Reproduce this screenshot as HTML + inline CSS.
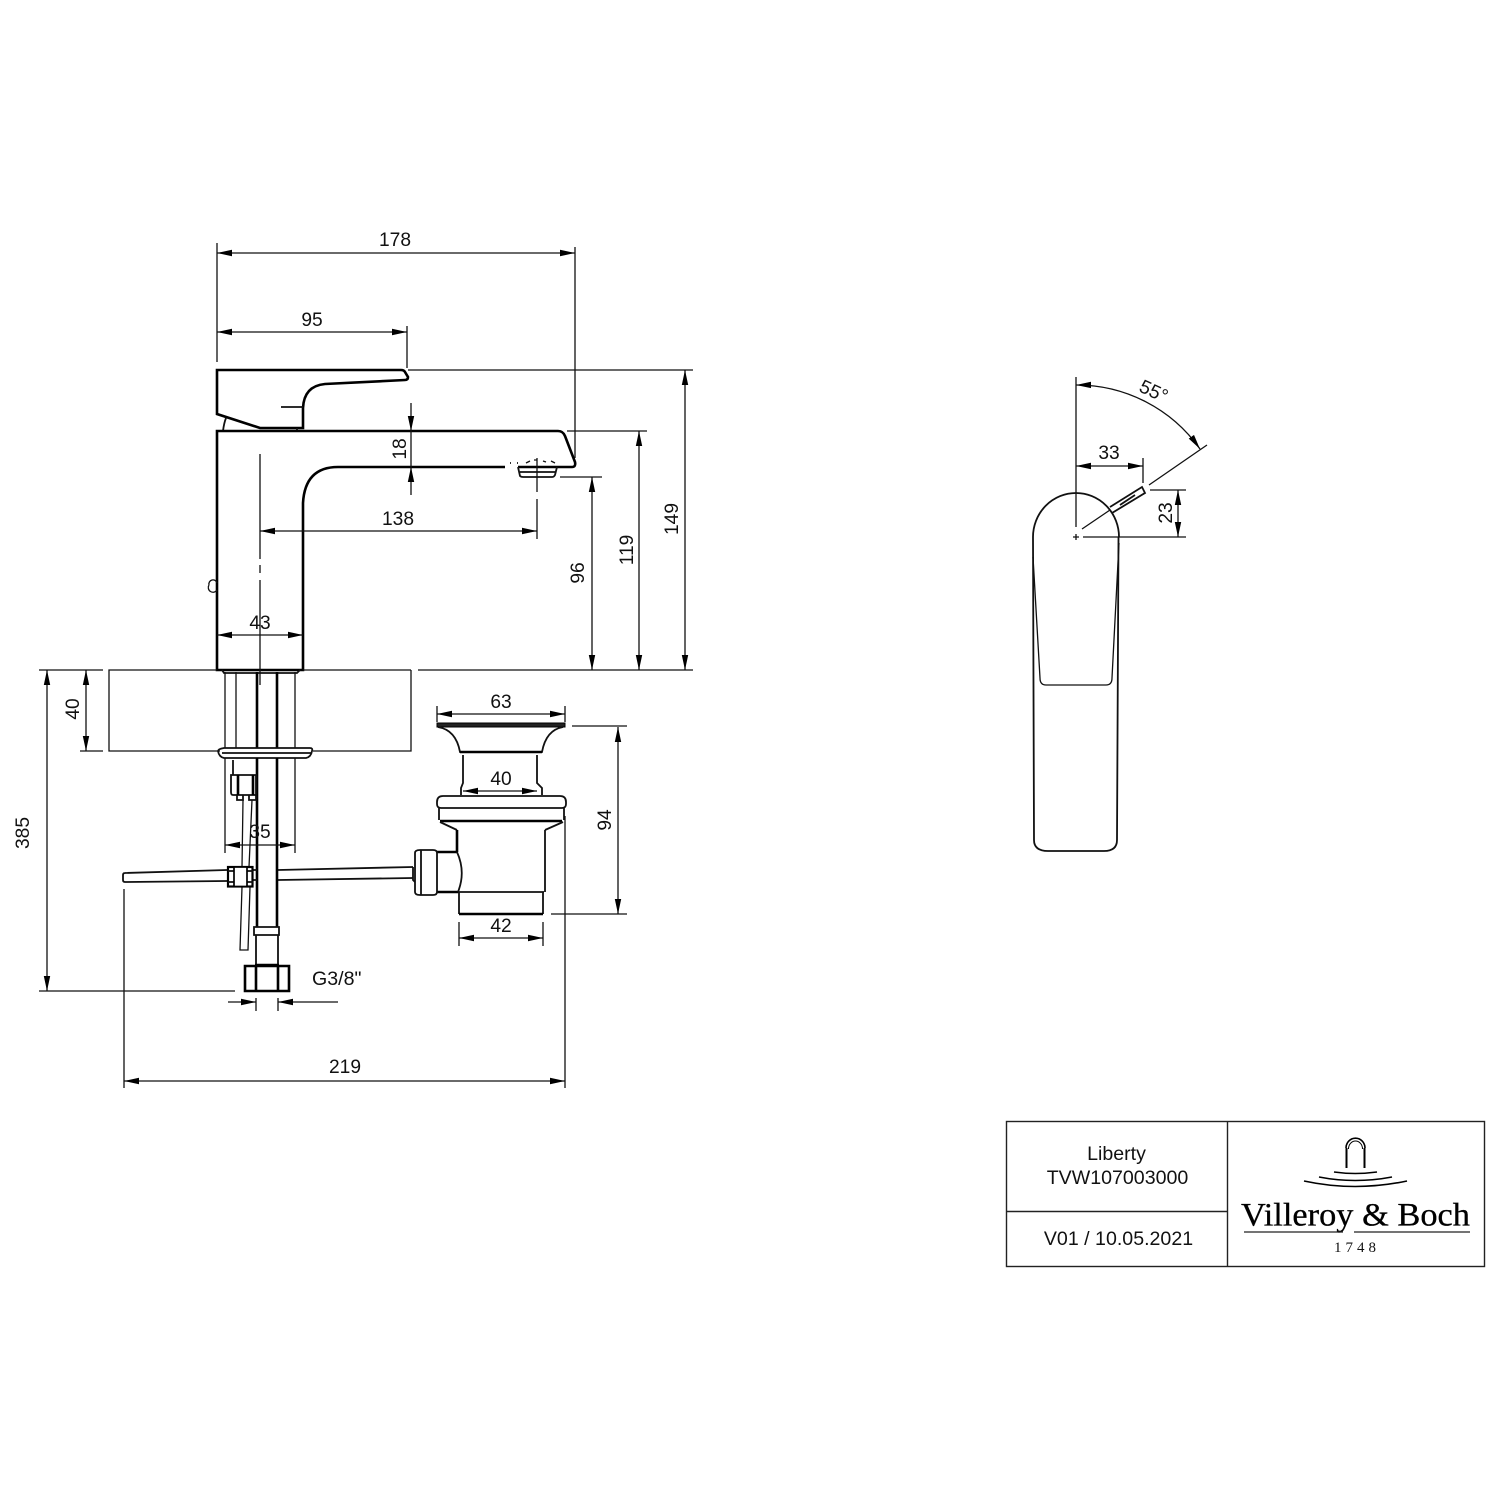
<!DOCTYPE html>
<html><head><meta charset="utf-8"><style>
html,body{margin:0;padding:0;background:#fff}
svg{display:block}
text{font-family:"Liberation Sans",sans-serif;font-size:19.2px;fill:#111;text-anchor:middle}
.tb{font-size:19.6px}
.t{stroke:#111;stroke-width:1.3;fill:none}
.m{stroke:#111;stroke-width:1.8;fill:none}
.b{stroke:#000;stroke-width:2.6;fill:none}
.d{stroke:#111;stroke-width:1.3;fill:none;marker-start:url(#a);marker-end:url(#a)}
</style></head><body>
<svg width="1500" height="1500" viewBox="0 0 1500 1500" xmlns="http://www.w3.org/2000/svg">
<defs><marker id="a" markerUnits="userSpaceOnUse" markerWidth="16" markerHeight="8" refX="15" refY="4" orient="auto-start-reverse"><path d="M0 0.8L15 4L0 7.2Z" fill="#000"/></marker></defs>
<rect width="1500" height="1500" fill="#fff"/>

<!-- Faucet side view -->
<path class="b" d="M217 370H401Q404 370 405 372L408 377Q408 380 405 380L325 384Q304 386 303 408V428H260L217 414Z"/>
<path class="m" d="M281 407H303M223 431Q224 423 226 418M297 428V431"/>
<path class="b" d="M505 467H338Q305 467 303 503V670H217V431H558Q563 431 565 436L575 462Q576 467 572 467H518"/>
<path class="m" d="M518 467L520 476Q521 477 523 477H552Q554 477 555 475L557 467M520 472H555M517 463h1M510 463h1"/>
<path class="t" d="M526 463L530 461M534 460h3M543 461l3 1M551 461l4 2"/>
<path class="m" d="M222 670L224 673H297L300 670"/>
<path class="t" d="M260 454V559M260 565V573M260 580V685M537 458V492M537 499V539"/>
<path class="t" d="M209 585A4 4 0 0 1 217 583M209 585A4 4 0 0 0 217 590"/>

<!-- Counter -->
<path class="t" d="M217 670H109V751H220M313 751H411V670M418 670H693M303 670H411"/>
<path class="t" d="M225 672V748M236 672V748M295 672V748"/>
<path class="b" d="M257 672V748M277 672V748"/>
<path class="m" d="M224 748H310Q313 748 312 751Q311 757 306 758H224Q219 757 218 751Q218 749 224 748ZM222 753H311"/>

<!-- Supply pipes -->
<path class="t" d="M225 758V853M295 758V853"/>
<path class="b" d="M257 758V927M277 758V927"/>
<path class="m" d="M233 760V775"/>
<path class="m" d="M231 775H256V795H233Q231 795 231 792Z"/>
<path class="b" d="M238 775V795M253 775V795"/>
<path class="m" d="M237 795V800H243V795M249 795V800H256V795"/>
<path class="t" d="M243 800L242 867M252 800L249 867M242 887L240 950H248L250 887"/>
<path class="m" d="M254 927H279V935H254ZM256 935V964M278 935V964"/>
<path class="b" d="M245 966H289V991H245ZM256 966V991M278 966V991"/>
<path class="b" d="M255 965H279"/>

<!-- Clamp and rod -->
<path class="m" d="M227 870L125 873Q123 873 123 875V880Q123 882 125 882L227 881M253 870H257M253 880H257"/>
<rect x="228" y="867" width="24.500" height="19.500" fill="none" stroke="#000" stroke-width="2.200"/>
<path class="m" d="M228 871H234M247 871H253M228 882H234M247 882H253"/>
<rect x="234" y="867" width="13" height="19.500" fill="#fff" stroke="#000" stroke-width="1.700"/>
<path class="m" d="M278 870L413 867M278 880L413 878"/>
<path class="m" d="M413 867V880L415 882"/>

<!-- Pop-up waste -->
<path d="M437 723H565V727H437Z" fill="#222" stroke="#000" stroke-width="1"/>
<path class="m" d="M438 727Q456 730 460 752H542Q546 730 563 727"/>
<path class="b" d="M460 752H542"/>
<path class="m" d="M463 755V783L461 788V795M537 755V783L542 788V795"/>
<path class="m" d="M443 796H560Q566 796 566 802V804Q566 808 562 808H441Q437 808 437 804V802Q437 796 443 796ZM439 808V820M564 808V820"/>
<path class="b" d="M440 821H562"/>
<path class="m" d="M440 822L457 830M563 822L545 830M545 830V892"/>
<path class="b" d="M457 830V852M437 852H457M437 892H458"/>
<path class="m" d="M458 892H544M459 892V914M543 892V914"/>
<path class="b" d="M459 914H543"/>
<path class="m" d="M457 852Q466 872 458 892"/>
<path class="m" d="M420 850H433Q437 850 437 853V892Q437 895 433 895H420Q415 895 415 892V853Q415 850 420 850ZM421 850V895"/>

<!-- Dimensions -->
<path class="d" d="M217 253H575"/>
<path class="t" d="M217 243V362M575 247V458"/>
<text x="395" y="246">178</text>
<path class="d" d="M217 332H407"/>
<path class="t" d="M407 326V368"/>
<text x="312" y="326">95</text>
<path class="t" d="M408 370H693"/>
<path class="d" d="M685 370V670"/>
<text transform="translate(678 519) rotate(-90)">149</text>
<path class="t" d="M567 431H647"/>
<path class="d" d="M639 431V670"/>
<text transform="translate(633 550) rotate(-90)">119</text>
<path class="t" d="M560 477H602"/>
<path class="d" d="M592 477V670"/>
<text transform="translate(584 573) rotate(-90)">96</text>
<path class="t" d="M411 403V431M411 467V495" />
<path class="t" d="M411 431V467"/>
<path d="M411 431L407.800 416H414.200ZM411 467L407.800 482H414.200Z" fill="#000"/>
<text transform="translate(406 449) rotate(-90)">18</text>
<path class="d" d="M260 531H537"/>
<text x="398" y="525">138</text>
<path class="d" d="M217 635H303"/>
<text x="260" y="629">43</text>
<path class="t" d="M80 670H103M80 751H103"/>
<path class="d" d="M86 670V751"/>
<text transform="translate(79 709) rotate(-90)">40</text>
<path class="t" d="M39 670H80M39 991H235"/>
<path class="d" d="M47 670V991"/>
<text transform="translate(29 833) rotate(-90)">385</text>
<path class="t" d="M437 706V722M565 706V722"/>
<path class="d" d="M437 714H565"/>
<text x="501" y="708">63</text>
<path class="d" d="M463 791H537"/>
<text x="501" y="785">40</text>
<path class="t" d="M572 726H627M551 914H627"/>
<path class="d" d="M618 727V914"/>
<text transform="translate(611 820) rotate(-90)">94</text>
<path class="t" d="M459 922V946M543 922V946"/>
<path class="d" d="M459 938H543"/>
<text x="501" y="932">42</text>
<path class="t" d="M124 889V1088M565 816V1088"/>
<path class="d" d="M124 1081H565"/>
<text x="345" y="1073">219</text>
<path class="d" d="M225 845H295"/>
<text x="260" y="838">35</text>
<text x="312" y="985" style="text-anchor:start;font-size:19.600px">G3/8"</text>
<path class="t" d="M256 998V1011M278 998V1011"/>
<path class="d" style="marker-start:none" d="M228 1002H256"/>
<path class="d" style="marker-start:none" d="M338 1002H278"/>

<!-- Right view -->
<path class="m" d="M1033 537A43 44 0 0 1 1119 537"/>
<path class="m" d="M1033 537L1034 840Q1034 851 1048 851H1104Q1117 851 1117 840L1118.500 537"/>
<path class="t" d="M1033 557L1040 678Q1040 685 1046 685H1106Q1112 685 1112 678L1119 543"/>
<path class="t" d="M1076 377V527M1073 537H1079M1076 534V540M1083 537H1186"/>
<path class="t" d="M1082 529L1110 510M1149 485L1207 445"/>
<path class="m" d="M1110 507L1142 487L1145 493L1112 513M1120 505L1135 495"/>
<path class="t" d="M1076 385A151 151 0 0 1 1200 449" style="marker-start:url(#a);marker-end:url(#a)"/>
<text transform="translate(1151 397) rotate(25)">55°</text>
<path class="d" d="M1076 466H1143"/>
<path class="t" d="M1143 458V483"/>
<text x="1109" y="459">33</text>
<path class="t" d="M1150 490H1186"/>
<path class="d" d="M1178 490V537"/>
<text transform="translate(1172 513) rotate(-90)">23</text>

<!-- Title block -->
<rect x="1006.500" y="1121.500" width="478" height="145" fill="none" stroke="#222" stroke-width="1.400"/>
<path stroke="#222" stroke-width="1.400" fill="none" d="M1227.500 1121V1266M1006 1211.500H1227"/>
<text class="tb" x="1116.500" y="1160">Liberty</text>
<text class="tb" x="1117.500" y="1184">TVW107003000</text>
<text class="tb" x="1118.500" y="1245">V01 / 10.05.2021</text>
<path stroke="#000" stroke-width="2" fill="none" d="M1346.500 1168V1148M1364.500 1168V1148"/>
<path stroke="#000" stroke-width="1.600" fill="none" d="M1346 1148A9.500 9.800 0 0 1 1365 1148"/>
<path stroke="#000" stroke-width="1" fill="none" d="M1348.500 1149A7 8 0 0 1 1362.500 1149"/>
<path stroke="#000" stroke-width="1.600" fill="none" d="M1334 1172Q1355 1175 1377 1172M1319 1177Q1355 1184 1392 1177M1304 1181Q1355 1192 1407 1181"/>
<text x="1355.500" y="1225.500" textLength="229" lengthAdjust="spacingAndGlyphs" style="font-family:'Liberation Serif',serif;font-size:33px;fill:#000;stroke:#000;stroke-width:.3">Villeroy &amp; Boch</text>
<path stroke="#222" stroke-width="1.200" fill="none" d="M1244 1232H1343M1354 1232H1470"/>
<text x="1357" y="1252" style="font-family:'Liberation Serif',serif;font-size:15px;letter-spacing:4px">1748</text>
</svg>
</body></html>
